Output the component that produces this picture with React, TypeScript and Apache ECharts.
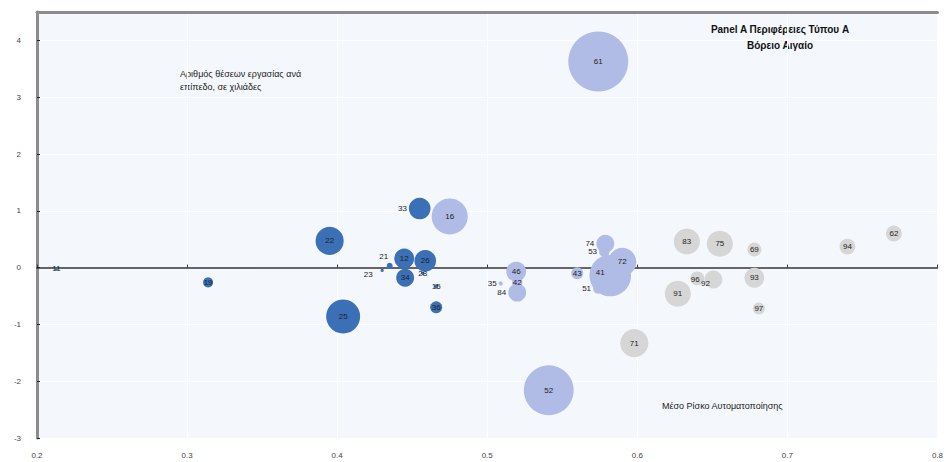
import React, { useEffect, useRef } from "react";
import * as echarts from "echarts";

// Region codes, average automation risk (x), y-value, jobs (bubble size, thousands)
const darkNames = ["11", "19", "22", "25", "33", "21", "23", "12", "26", "34", "28", "36", "15"];
const darkX = [0.213, 0.314, 0.395, 0.404, 0.455, 0.435, 0.43, 0.4447, 0.4587, 0.4453, 0.457, 0.466, 0.466];
const darkY = [-0.02, -0.26, 0.47, -0.86, 1.04, 0.03, -0.05, 0.16, 0.12, -0.18, -0.1, -0.7, -0.33];
const darkJobs = [0.3, 2.8, 22, 32, 13, 1, 0.3, 11, 13, 9, 0.3, 4, 0.5];

const lightNames = ["16", "61", "52", "46", "42", "35", "84", "43", "74", "53", "72", "41", "51"];
const lightX = [0.475, 0.574, 0.541, 0.5193, 0.52, 0.509, 0.52, 0.56, 0.5787, 0.578, 0.59, 0.582, 0.574];
const lightY = [0.9, 3.63, -2.16, -0.07, -0.26, -0.28, -0.44, -0.1, 0.42, 0.28, 0.1, -0.14, -0.37];
const lightJobs = [36, 100, 69, 11, 3, 0.5, 9, 4, 9, 3, 22, 48, 3];

const grayNames = ["83", "75", "69", "94", "62", "93", "96", "92", "91", "97", "71"];
const grayX = [0.633, 0.655, 0.678, 0.74, 0.771, 0.678, 0.64, 0.6507, 0.627, 0.681, 0.598];
const grayY = [0.46, 0.42, 0.32, 0.37, 0.6, -0.18, -0.19, -0.21, -0.46, -0.72, -1.33];
const grayJobs = [19, 19, 5.4, 7, 7, 11, 5.4, 9, 19, 4, 22];

const xTicks = [0.2, 0.3, 0.4, 0.5, 0.6, 0.7, 0.8];
const yTicks = [-3, -2, -1, 0, 1, 2, 3, 4];

const titleLines = ["Panel A Περιφέρειες Τύπου A", "Βόρειο Αιγαίο"];
const sizeNote = ["Αριθμός θέσεων εργασίας ανά", "επίπεδο, σε χιλιάδες"];
const xNote = "Μέσο Ρίσκο Αυτοματοποίησης";

// label placement for points whose label sits beside the bubble
const labelLeft = new Set(["33", "35", "84", "74", "53", "51"]);
const labelOffset: Record<string, number[]> = {
  "41": [-10, -3],
  "92": [-8, 4],
  "96": [-2, 1],
  "21": [-6, -9],
  "23": [-14, 4],
};

const GRID = { left: 37, right: 8, top: 12, bottom: 24 };

function build(names: string[], xs: number[], ys: number[], jobs: number[]) {
  return names.map((n, i) => {
    const item: any = { value: [xs[i], ys[i], jobs[i], n], name: n };
    if (labelLeft.has(n)) {
      item.label = { position: "left", distance: 2 };
    } else if (labelOffset[n]) {
      item.label = { offset: labelOffset[n] };
    }
    return item;
  });
}

export default function App() {
  const ref = useRef<HTMLDivElement>(null);
  useEffect(() => {
    if (!ref.current) return;
    const chart = echarts.init(ref.current, undefined, { renderer: "svg" });
    const labelStyle = {
      show: true,
      position: "inside",
      formatter: (p: any) => p.value[3],
      fontSize: 8,
      color: "#222",
      fontFamily: "Liberation Sans, Arial, sans-serif",
    };
    const mk = (name: string, color: string, data: any[]) => ({
      name,
      type: "scatter",
      xAxisIndex: 0,
      yAxisIndex: 0,
      symbolSize: (v: number[]) => Math.max(3, Math.sqrt(v[2]) * 6),
      itemStyle: { color, opacity: 1 },
      label: labelStyle,
      emphasis: { disabled: true },
      data,
    });
    chart.setOption({
      animation: false,
      backgroundColor: "#ffffff",
      textStyle: { fontFamily: "Liberation Sans, Arial, sans-serif" },
      grid: { ...GRID, show: true, backgroundColor: "#f4f8fc", borderWidth: 0 },
      xAxis: [
        {
          type: "value",
          position: "bottom",
          min: xTicks[0],
          max: xTicks[xTicks.length - 1],
          interval: 0.1,
          axisLine: { show: false, onZero: false },
          axisTick: { show: false },
          axisLabel: { fontSize: 8, color: "#444", margin: 13, formatter: (v: number) => v.toFixed(1) },
          splitLine: { show: true, lineStyle: { color: "#ffffff", width: 1 } },
        },
        {
          type: "value",
          position: "top",
          min: xTicks[0],
          max: xTicks[xTicks.length - 1],
          interval: 0.1,
          axisLine: { show: true, onZero: true, lineStyle: { color: "#333", width: 1.5 } },
          axisTick: { show: true, length: 3, lineStyle: { color: "#333" } },
          axisLabel: { show: false },
          splitLine: { show: false },
        },
        {
          type: "value",
          position: "top",
          min: xTicks[0],
          max: xTicks[xTicks.length - 1],
          axisLine: { show: true, onZero: false, lineStyle: { color: "#8c8c8c", width: 3 } },
          axisTick: { show: false },
          axisLabel: { show: false },
          splitLine: { show: false },
        },
      ],
      yAxis: {
        type: "value",
        min: yTicks[0],
        max: 4.5,
        interval: 1,
        axisLine: { show: true, onZero: false, lineStyle: { color: "#8c8c8c", width: 3 } },
        axisTick: { show: true, inside: true, length: 3, lineStyle: { color: "#222" } },
        axisLabel: { fontSize: 8, color: "#444", margin: 16, showMaxLabel: false },
        splitLine: { show: true, lineStyle: { color: "#ffffff", width: 1 } },
      },
      graphic: [
        {
          type: "text",
          x: 780,
          y: 21,
          style: {
            text: titleLines.join("\n"),
            fontSize: 10,
            fontWeight: "bold",
            fill: "#111",
            align: "center",
            lineHeight: 16,
          },
        },
        {
          type: "text",
          x: 180,
          y: 67,
          style: { text: sizeNote.join("\n"), fontSize: 9, fill: "#222", lineHeight: 13 },
        },
        {
          type: "text",
          x: 662,
          y: 401,
          style: { text: xNote, fontSize: 9, fill: "#222" },
        },
      ],
      series: [
        mk("A", "#3b6fb6", build(darkNames, darkX, darkY, darkJobs)),
        mk("B", "#b1bce6", build(lightNames, lightX, lightY, lightJobs)),
        mk("C", "#d6d6d6", build(grayNames, grayX, grayY, grayJobs)),
      ],
    });
    return () => chart.dispose();
  }, []);
  return <div ref={ref} style={{ width: 946, height: 462, position: "absolute", left: 0, top: 0 }} />;
}
